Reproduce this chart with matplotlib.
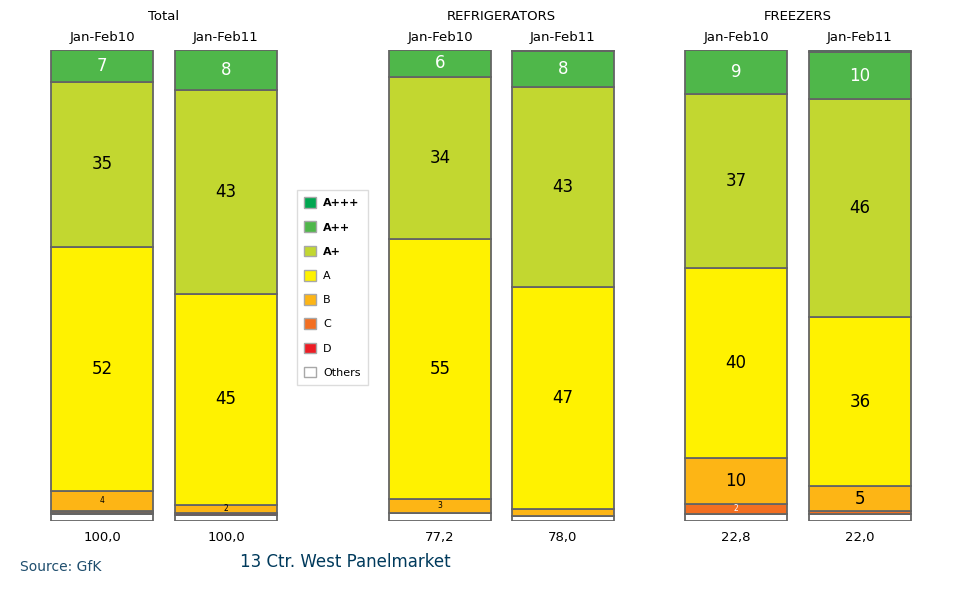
import matplotlib
matplotlib.use("Agg")
import matplotlib.pyplot as plt
from matplotlib.patches import Patch

# ---------------- data ----------------
classes = ["A+++", "A++", "A+", "A", "B", "C", "D", "Others"]
colors = ["#00A650", "#4FB74A", "#C2D730", "#FFF200", "#FDB515", "#F36F21", "#ED1C24", "#FFFFFF"]

groups = ["Total", "REFRIGERATORS", "FREEZERS"]
periods = ["Jan-Feb10", "Jan-Feb11"]

# shares (%) per bar, order matches `classes`
total_10 = [0.0, 6.8, 35.0, 51.8, 4.2, 0.5, 0.3, 1.4]
total_11 = [0.0, 8.4, 43.4, 44.7, 1.8, 0.1, 0.3, 1.3]
refr_10 = [0.0, 5.7, 34.4, 55.3, 2.8, 0.1, 0.1, 1.6]
refr_11 = [0.2, 7.6, 42.6, 47.0, 1.6, 0.0, 0.0, 1.0]
frz_10 = [0.0, 9.3, 36.9, 40.4, 9.8, 2.1, 0.0, 1.5]
frz_11 = [0.5, 10.0, 46.2, 35.9, 5.3, 0.6, 0.0, 1.5]

bars = [total_10, total_11, refr_10, refr_11, frz_10, frz_11]
market_size = ["100,0", "100,0", "77,2", "78,0", "22,8", "22,0"]

# ---------------- layout ----------------
W, H = 962, 593
fig = plt.figure(figsize=(W / 100, H / 100), dpi=100)
y_bot_px, y_top_px = 521, 50
ax = fig.add_axes([0, 1 - y_bot_px / H, 1, (y_bot_px - y_top_px) / H])
ax.set_xlim(0, W)
ax.set_ylim(0, 100)
ax.axis("off")
px = 100 / (y_bot_px - y_top_px)  # data units per pixel (vertical)

centers = [102, 226, 440, 563, 736, 860]
bar_w = 102
edge = "#646464"
white_label = {"A++", "C"}

for xc, vals, tot in zip(centers, bars, market_size):
    bottom = 0.0
    # stack from bottom: Others, D, C, B, A, A+, A++, A+++
    for i in range(len(classes) - 1, -1, -1):
        v = vals[i]
        if v <= 0:
            continue
        ax.bar(xc, v, bottom=bottom, width=bar_w, color=colors[i],
               edgecolor=edge, linewidth=1.3)
        if v >= 1.7 and classes[i] != "Others":
            lab = str(int(v + 0.5))
            fs = 12 if v >= 5 else 5.5
            col = "white" if classes[i] in white_label else "black"
            ax.text(xc, bottom + v / 2, lab, ha="center", va="center",
                    fontsize=fs, color=col)
        bottom += v
    ax.text(xc, -16 * px, tot, ha="center", va="center", fontsize=9.5,
            color="black", clip_on=False)

# headers
for gi, g in enumerate(groups):
    c0, c1 = centers[2 * gi], centers[2 * gi + 1]
    ax.text((c0 + c1) / 2, (y_bot_px - 16) * px, g, ha="center", va="center",
            fontsize=9.5, clip_on=False)
    for k, p in enumerate(periods):
        ax.text(centers[2 * gi + k], (y_bot_px - 37) * px, p, ha="center",
                va="center", fontsize=9.5, clip_on=False)

# legend
handles = [Patch(facecolor=c, edgecolor="#A8A8A8", linewidth=1.0) for c in colors]
leg = fig.legend(handles, classes, loc="upper left",
                 bbox_to_anchor=(297 / W, 1 - 190 / H), fontsize=8,
                 frameon=True, fancybox=False, edgecolor="#D4D4D4",
                 handlelength=1.1, handleheight=1.1, handletextpad=0.6,
                 labelspacing=1.18, borderpad=0.65, borderaxespad=0)
leg.get_frame().set_linewidth(1.0)
for t in leg.get_texts()[:3]:
    t.set_fontweight("bold")

# footer
fig.text(20 / W, 1 - 567 / H, "Source: GfK", ha="left", va="center",
         fontsize=10, color="#1F4E6E")
fig.text(345 / W, 1 - 562 / H, "13 Ctr. West Panelmarket", ha="center",
         va="center", fontsize=12, color="#003A5C")

fig.savefig("out.png", dpi=100)
